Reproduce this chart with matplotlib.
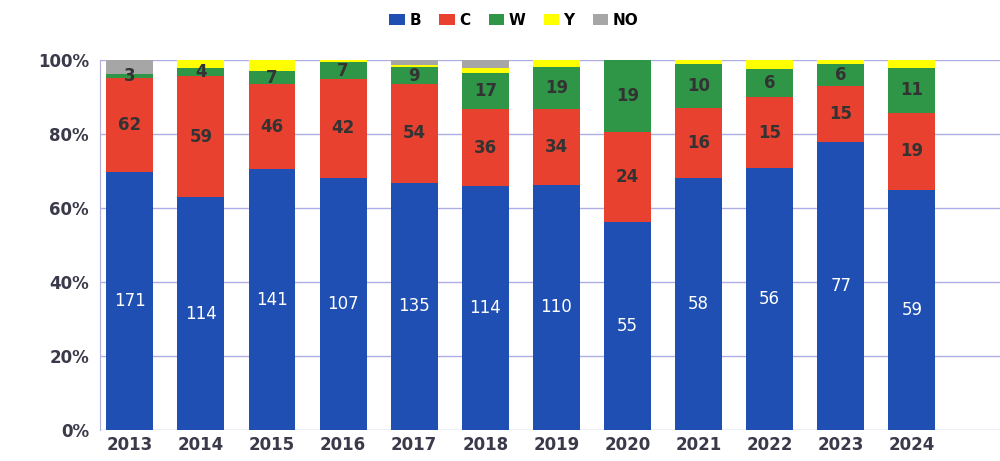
import numpy as np
import matplotlib.pyplot as plt
from matplotlib.ticker import PercentFormatter

years = ["2013", "2014", "2015", "2016", "2017", "2018", "2019", "2020", "2021", "2022", "2023", "2024"]
b_vals = [171, 114, 141, 107, 135, 114, 110, 55, 58, 56, 77, 59]
c_vals = [62, 59, 46, 42, 54, 36, 34, 24, 16, 15, 15, 19]
w_vals = [3, 4, 7, 7, 9, 17, 19, 19, 10, 6, 6, 11]
y_vals = [0, 4, 6, 1, 1, 2, 3, 0, 1, 2, 1, 2]
no_vals = [9, 0, 0, 0, 3, 4, 0, 0, 0, 0, 0, 0]

series = [
    ("B", b_vals, "#1f4fb3"),
    ("C", c_vals, "#e8412f"),
    ("W", w_vals, "#2e9646"),
    ("Y", y_vals, "#ffff00"),
    ("NO", no_vals, "#a6a6a6"),
]

totals = np.sum([np.array(v) for _, v, _ in series], axis=0)
x = np.arange(len(years))

fig = plt.figure(figsize=(10, 4.61), dpi=100)
ax = fig.add_axes([0.10, 0.067, 0.90, 0.803])

bottom = np.zeros(len(years))
for name, vals, color in series:
    pct = np.array(vals) / totals * 100
    ax.bar(x, pct, 0.66, bottom=bottom, color=color, label=name, zorder=3)
    # counts written inside the B, C and W segments
    if name in ("B", "C", "W"):
        for i, (v, p, b0) in enumerate(zip(vals, pct, bottom)):
            if v == 0:
                continue
            tc = "white" if name == "B" else "#333333"
            ax.text(x[i], b0 + p / 2, str(v), ha="center", va="center",
                    color=tc, fontsize=12, zorder=4,
                    fontweight="normal" if name == "B" else "bold")
    bottom += pct

ax.set_ylim(0, 100)
ax.set_xlim(-0.42, 12.24)
ax.set_yticks(np.arange(0, 101, 20))
ax.yaxis.set_major_formatter(PercentFormatter(decimals=0))
ax.set_xticks(x)
ax.set_xticklabels(years)
for lab in ax.get_xticklabels() + ax.get_yticklabels():
    lab.set_fontweight("bold")
    lab.set_fontsize(12)
    lab.set_color("#3a3a4a")
ax.grid(axis="y", color="#aeaee6", linewidth=1, zorder=0)
for s in ["top", "right", "bottom"]:
    ax.spines[s].set_visible(False)
ax.spines["left"].set_color("#b0b0d8")
ax.tick_params(axis="x", length=0, pad=4)
ax.tick_params(axis="y", length=0, pad=8)

ax.legend(loc="lower center", bbox_to_anchor=(0.46, 1.05), ncol=5, frameon=False,
          handlelength=1.0, handleheight=0.7, handletextpad=0.3, columnspacing=1.2,
          prop={"weight": "bold", "size": 11})

fig.savefig("out.png", dpi=100)
